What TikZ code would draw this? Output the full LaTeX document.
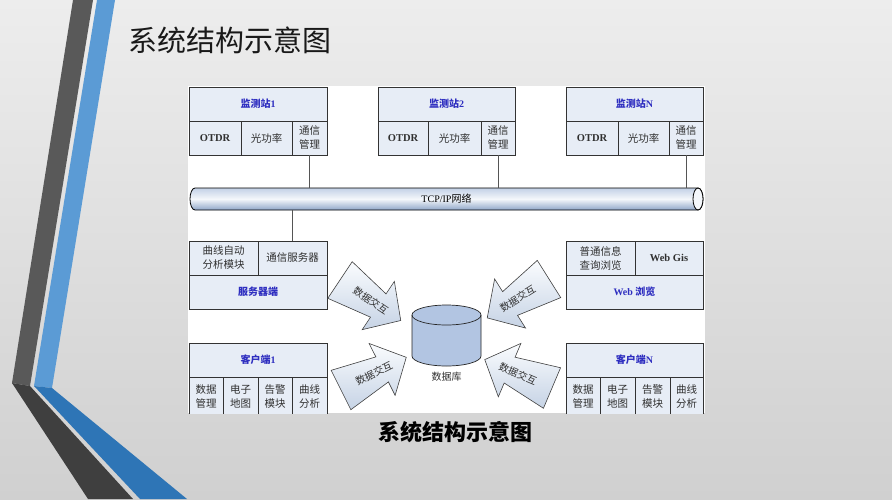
\documentclass[tikz,border=0pt]{standalone}
\usepackage{fontspec}
\setmainfont{Liberation Serif}
\newfontfamily\cjk{Noto Sans CJK SC}
\definecolor{bgtop}{HTML}{EDEDED}
\definecolor{bgbot}{HTML}{D0D0D0}
\definecolor{darkband}{HTML}{595959}
\definecolor{darkband2}{HTML}{3F3F3F}
\definecolor{blueband}{HTML}{5B9BD5}
\definecolor{blueband2}{HTML}{2E75B6}
\definecolor{boxfill}{HTML}{E7EDF6}
\definecolor{boxline}{HTML}{333333}
\definecolor{hdrblue}{HTML}{2E2EC0}
\definecolor{txtgray}{HTML}{303030}
\definecolor{tubetop}{HTML}{C3D1E6}
\definecolor{tubemid}{HTML}{F4F7FB}
\definecolor{tubebot}{HTML}{8FA6C8}
\definecolor{dbfill}{HTML}{B2C5E2}
\definecolor{arrtop}{HTML}{FAFCFE}
\definecolor{arrbot}{HTML}{C6D3E5}
\definecolor{connline}{HTML}{555555}
\newcommand\dataarrow[5]{%
  \begin{scope}[shift={(#1,#2)}, rotate=#3]
    \path[arrowshape] (0,-22) -- (46,-14) -- (46,-29) -- (73,0) -- (46,29) -- (46,14) -- (0,22) -- cycle;
    \node[arrowtext, rotate=#4] (#5) at (37,0) {数据交互};
  \end{scope}}
\begin{document}
\begin{tikzpicture}[x=1pt,y=-1pt,
  cell/.style={draw=boxline, fill=boxfill, line width=0.6pt, inner sep=0pt, align=center,
    font=\fontsize{10.5}{14}\selectfont\cjk, text=txtgray},
  hdr/.style={cell, font=\fontsize{10}{12}\selectfont\bfseries, text=hdrblue},
  conn/.style={draw=connline, line width=0.7pt},
  tubeline/.style={draw=black, line width=0.8pt},
  arrowshape/.style={draw=black!75, line width=0.6pt, top color=arrtop, bottom color=arrbot},
  arrowtext/.style={font=\fontsize{10}{12}\selectfont\cjk, text=txtgray, inner sep=0pt}]
\useasboundingbox (0,0) rectangle (892,499);
% background
\shade[top color=bgtop, bottom color=bgbot] (0,0) rectangle (892,499);
% left decoration
\fill[darkband] (73,0) -- (93,0) -- (30,386) -- (12,383) -- cycle;
\fill[blueband] (97,0) -- (115,0) -- (52,388) -- (34,386) -- cycle;
\fill[darkband2] (12,383) -- (30,386) -- (133,499) -- (88,499) -- cycle;
\fill[blueband2] (34,386) -- (52,388) -- (187,499) -- (140,499) -- cycle;
% title
\node[font=\fontsize{29}{32}\selectfont\cjk, text=black!90] (title) at (230,40) {系统结构示意图};
% white panel
\fill[white] (188,86) rectangle (705,413);
% monitoring stations
\node[hdr, minimum width=138pt, minimum height=34pt] (s1h) at (258,104) {{\cjk 监测站}1};
\node[cell, minimum width=52pt, minimum height=34pt] (s1a) at (215,138) {\rmfamily\bfseries OTDR};
\node[cell, minimum width=51pt, minimum height=34pt] (s1b) at (266.5,138) {光功率};
\node[cell, minimum width=35pt, minimum height=34pt] (s1c) at (309.5,138) {通信\\管理};
\node[hdr, minimum width=137pt, minimum height=34pt] (s2h) at (446.5,104) {{\cjk 监测站}2};
\node[cell, minimum width=50pt, minimum height=34pt] (s2a) at (403,138) {\rmfamily\bfseries OTDR};
\node[cell, minimum width=53pt, minimum height=34pt] (s2b) at (454.5,138) {光功率};
\node[cell, minimum width=34pt, minimum height=34pt] (s2c) at (498,138) {通信\\管理};
\node[hdr, minimum width=137pt, minimum height=34pt] (snh) at (634.5,104) {{\cjk 监测站}N};
\node[cell, minimum width=52pt, minimum height=34pt] (sna) at (592,138) {\rmfamily\bfseries OTDR};
\node[cell, minimum width=51pt, minimum height=34pt] (snb) at (643.5,138) {光功率};
\node[cell, minimum width=34pt, minimum height=34pt] (snc) at (686,138) {通信\\管理};
% network tube
\shade[tubeline, top color=tubetop, bottom color=tubebot, middle color=tubemid]
  (195,188) -- (698,188) arc[start angle=-90, end angle=90, x radius=5, y radius=11]
  -- (195,210) arc[start angle=90, end angle=270, x radius=5, y radius=11] -- cycle;
\filldraw[tubeline, fill=tubemid] (698,199) ellipse[x radius=5, y radius=11];
\node[minimum width=513pt, minimum height=22pt, inner sep=0pt, font=\fontsize{10}{12}\selectfont] (tube) at (446.5,199) {TCP/IP{\cjk 网络}};
\draw[conn] (s1c.south) -- (s1c.south |- tube.north);
\draw[conn] (s2c.south) -- (s2c.south |- tube.north);
\draw[conn] (snc.south) -- (snc.south |- tube.north);
% server
\node[cell, minimum width=69pt, minimum height=34pt] (srva) at (223.5,258) {曲线自动\\分析模块};
\node[cell, minimum width=69pt, minimum height=34pt] (srvb) at (292.5,258) {通信服务器};
\node[hdr, minimum width=138pt, minimum height=34pt] (srvh) at (258,292) {{\cjk 服务器端}};
\draw[conn] (srvb.north |- tube.south) -- (srvb.north);
% web
\node[cell, minimum width=69pt, minimum height=34pt] (weba) at (600.5,258) {普通信息\\查询浏览};
\node[cell, minimum width=68pt, minimum height=34pt] (webb) at (669,258) {\rmfamily\bfseries Web Gis};
\node[hdr, minimum width=137pt, minimum height=34pt] (webh) at (634.5,292) {Web {\cjk 浏览}};
% clients (bottom edge cut by the panel)
\begin{scope}
\clip (0,0) rectangle (892,413);
\node[hdr, minimum width=138pt, minimum height=34pt] (c1h) at (258,360) {{\cjk 客户端}1};
\node[cell, minimum width=34pt, minimum height=40pt] (c1a) at (206,397) {数据\\管理};
\node[cell, minimum width=35pt, minimum height=40pt] (c1b) at (240.5,397) {电子\\地图};
\node[cell, minimum width=34pt, minimum height=40pt] (c1c) at (275,397) {告警\\模块};
\node[cell, minimum width=35pt, minimum height=40pt] (c1d) at (309.5,397) {曲线\\分析};
\node[hdr, minimum width=137pt, minimum height=34pt] (cnh) at (634.5,360) {{\cjk 客户端}N};
\node[cell, minimum width=34pt, minimum height=40pt] (cna) at (583,397) {数据\\管理};
\node[cell, minimum width=35pt, minimum height=40pt] (cnb) at (617.5,397) {电子\\地图};
\node[cell, minimum width=35pt, minimum height=40pt] (cnc) at (652.5,397) {告警\\模块};
\node[cell, minimum width=33pt, minimum height=40pt] (cnd) at (686.5,397) {曲线\\分析};
\end{scope}
% database
\fill[dbfill] (412,315) -- (412,356) arc[start angle=180, end angle=0, x radius=34.5, y radius=10]
  -- (481,315) arc[start angle=0, end angle=-180, x radius=34.5, y radius=10] -- cycle;
\draw[black!85, line width=0.7pt] (412,315) -- (412,356) arc[start angle=180, end angle=0, x radius=34.5, y radius=10] -- (481,315);
\draw[black!85, line width=0.7pt] (446.5,315) ellipse[x radius=34.5, y radius=10];
\coordinate (db) at (446.5,336);
\node[font=\fontsize{10}{12}\selectfont\cjk, text=txtgray] (dblabel) at (446.5,377) {数据库};
% data exchange arrows
\dataarrow{340}{280}{-33.7}{-33.7}{ar1}
\dataarrow{341}{390}{26.6}{26.6}{ar2}
\dataarrow{549}{279}{-147.8}{32.2}{ar3}
\dataarrow{552}{388}{157.1}{-22.9}{ar4}
% caption
\node[font=\fontsize{22}{24}\selectfont\cjk\bfseries, text=black] (caption) at (455,432) {系统结构示意图};
\end{tikzpicture}
\end{document}
